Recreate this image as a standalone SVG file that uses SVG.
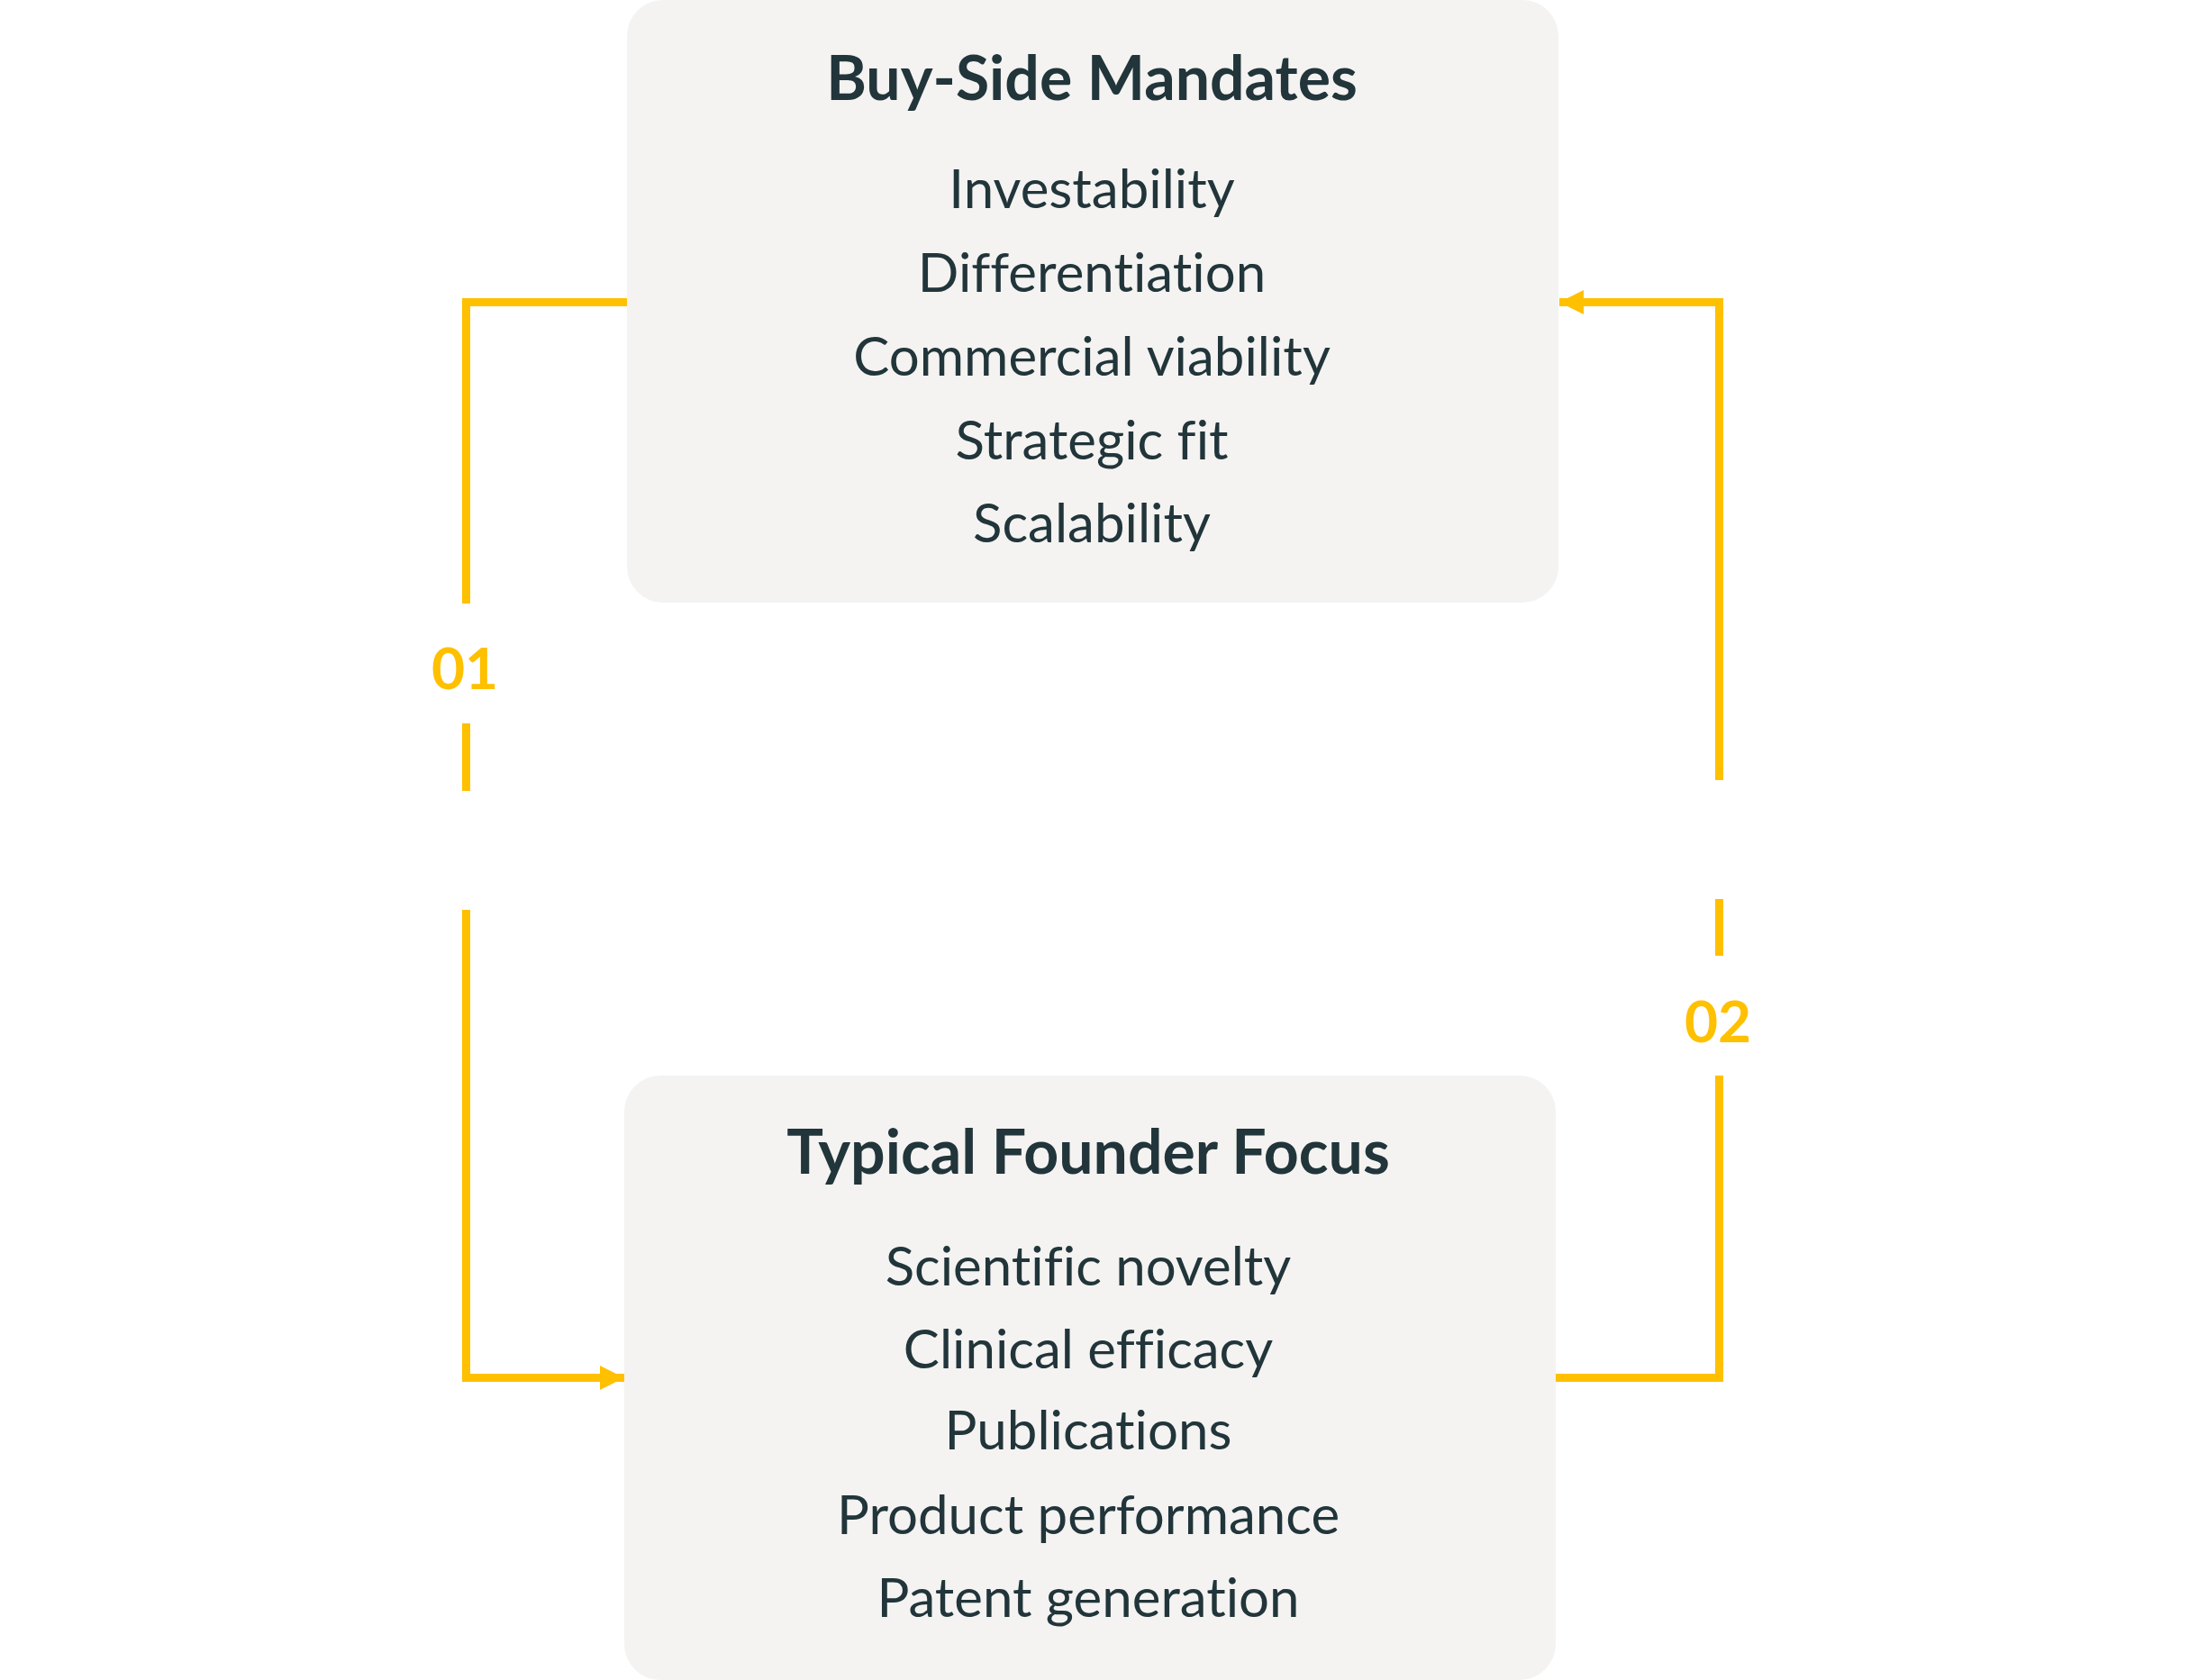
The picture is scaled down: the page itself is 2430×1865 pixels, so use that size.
<svg xmlns="http://www.w3.org/2000/svg" width="2430" height="1865" viewBox="0 0 2430 1865">
<style>
.box{fill:#F4F3F1}
text{font-variant-ligatures:none}
.title{font-family:Lato,"Liberation Sans",sans-serif;font-weight:700;font-size:68px;fill:#21353A;text-anchor:middle}
.item{font-family:Lato,"Liberation Sans",sans-serif;font-weight:400;font-size:60px;fill:#21353A;text-anchor:middle}
.lbl{font-family:Lato,"Liberation Sans",sans-serif;font-weight:700;font-size:64px;fill:#FFC000;text-anchor:middle}
.conn{fill:none;stroke:#FFC000;stroke-width:9;stroke-linejoin:miter;stroke-linecap:butt}
</style>
<defs>
<marker id="arrow" markerUnits="userSpaceOnUse" markerWidth="27" markerHeight="27" refX="27" refY="13.5" orient="auto">
<path d="M0,0 L27,13.5 L0,27 Z" fill="#FFC000"/>
</marker>
</defs>
<rect width="2430" height="1865" fill="#FFFFFF"/>
<g id="node-buyside">
<rect class="box" x="696" y="0" width="1034" height="669" rx="40" ry="40"/>
<text class="title" x="1212" y="111">Buy-Side Mandates</text>
<text class="item" x="1212" y="231">Investability</text>
<text class="item" x="1212" y="324">Differentiation</text>
<text class="item" x="1212" y="417">Commercial viability</text>
<text class="item" x="1212" y="510">Strategic fit</text>
<text class="item" x="1212" y="602">Scalability</text>
</g>
<g id="node-founder">
<rect class="box" x="693" y="1194" width="1034" height="671" rx="40" ry="40"/>
<text class="title" x="1208" y="1303">Typical Founder Focus</text>
<text class="item" x="1208" y="1427">Scientific novelty</text>
<text class="item" x="1208" y="1519">Clinical efficacy</text>
<text class="item" x="1208" y="1609">Publications</text>
<text class="item" x="1208" y="1703">Product performance</text>
<text class="item" x="1208" y="1795">Patent generation</text>
</g>
<g id="connectors">
<path class="conn" d="M696,335.5 H517.5 V670"/>
<path class="conn" d="M517.5,803 V878"/>
<path class="conn" d="M517.5,1010 V1529.5 H693" marker-end="url(#arrow)"/>
<path class="conn" d="M1727,1529.5 H1908.5 V1194"/>
<path class="conn" d="M1908.5,1061 V998"/>
<path class="conn" d="M1908.5,866 V335.5 H1731" marker-end="url(#arrow)"/>
<text class="lbl" x="516" y="765">01</text>
<text class="lbl" x="1907" y="1157">02</text>
</g>
</svg>
